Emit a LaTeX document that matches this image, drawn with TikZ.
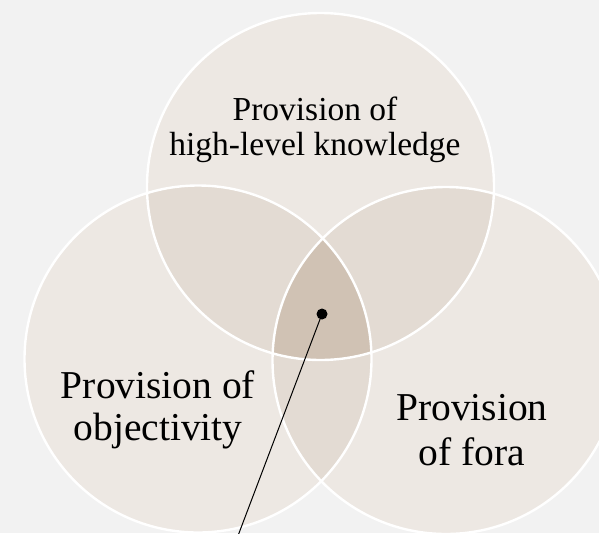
\documentclass[tikz,border=0pt]{standalone}
\usepackage{fontspec}
\setmainfont{Liberation Serif}
\begin{document}
\begin{tikzpicture}[x=1pt,y=-1pt,
  single/.style={fill=venna},
  pair/.style={fill=vennb},
  triple/.style={fill=vennc},
  ring/.style={draw=white,line width=2.4pt},
  lbl/.style={text=black,align=center,inner sep=0pt,anchor=base}]
\definecolor{bg}{HTML}{F2F2F2}
\definecolor{venna}{HTML}{EDE8E3}
\definecolor{vennb}{HTML}{E3DBD3}
\definecolor{vennc}{HTML}{D0C2B4}
\useasboundingbox (0,0) rectangle (599,533);
\fill[bg] (0,0) rectangle (599,533);
\clip (0,0) rectangle (599,533);
\def\CT{(320.5,186.5) circle[radius=173.5pt]}
\def\CL{(198,359) circle[radius=173.5pt]}
\def\CR{(446,360.5) circle[radius=173.5pt]}
\path[single] \CT;
\path[single] \CL;
\path[single] \CR;
\begin{scope}\clip \CT; \path[pair] \CL; \path[pair] \CR; \end{scope}
\begin{scope}\clip \CL; \path[pair] \CR; \end{scope}
\begin{scope}\clip \CT; \clip \CL; \path[triple] \CR; \end{scope}
\path[ring] \CT;
\path[ring] \CL;
\path[ring] \CR;
\node[lbl,font=\fontsize{33.5}{35}\selectfont] (top) at (315,155) {Provision of\\high-level knowledge};
\node[lbl,font=\fontsize{39.5}{42}\selectfont] (left) at (158,440) {Provision of\\objectivity};
\node[lbl,font=\fontsize{39.5}{45}\selectfont] (right) at (472,465) {Provision\\of fora};
\node[circle,fill=black,inner sep=0pt,minimum size=11pt] (dot) at (322,314) {};
\coordinate (tail) at (236,541);
\draw[black,line width=1pt] (dot.center) -- (tail);
\end{tikzpicture}
\end{document}
